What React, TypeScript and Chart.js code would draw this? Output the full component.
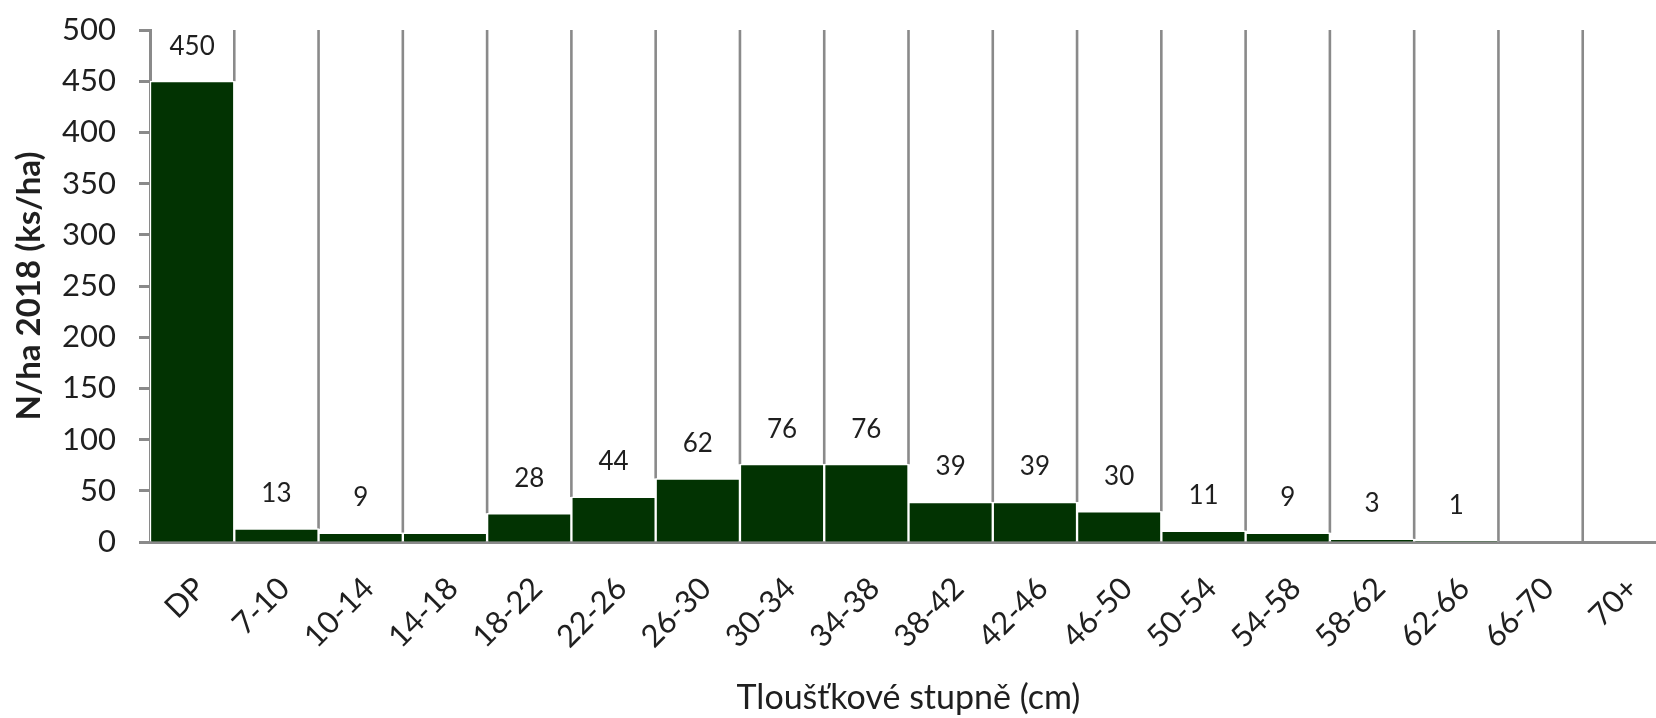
import React, { useEffect, useRef } from "react";
import { Chart, registerables } from "chart.js";

Chart.register(...registerables);

const categories = [
  "DP", "7-10", "10-14", "14-18", "18-22", "22-26", "26-30", "30-34", "34-38",
  "38-42", "42-46", "46-50", "50-54", "54-58", "58-62", "62-66", "66-70", "70+",
];
const values = [450, 13, 9, 9, 28, 44, 62, 76, 76, 39, 39, 30, 11, 9, 3, 1, 0, 0];
const unlabeledCategories = ["14-18"];
const yMin = 0;
const yMax = 500;
const yStep = 50;
const xTitle = "Tloušťkové stupně (cm)";
const yTitle = "N/ha 2018 (ks/ha)";

const BAR = "#023302";
const AXIS = "#8a8a8a";
const TEXT = "#1f1f1f";
const FONT = "Lato, 'Open Sans', sans-serif";

const dropLines = {
  id: "dropLines",
  beforeDatasetsDraw(chart: any) {
    const { ctx, scales } = chart;
    const x = scales.x;
    const y = scales.y;
    const data = chart.data.datasets[0].data as number[];
    ctx.save();
    ctx.strokeStyle = AXIS;
    ctx.lineWidth = 2.6;
    for (let i = 1; i < data.length; i++) {
      const xp = (x.getPixelForValue(i - 1) + x.getPixelForValue(i)) / 2;
      const top = y.getPixelForValue(yMax);
      const bottom = y.getPixelForValue(Math.max(data[i - 1], data[i]));
      ctx.beginPath();
      ctx.moveTo(xp, top);
      ctx.lineTo(xp, bottom);
      ctx.stroke();
    }
    ctx.restore();
  },
};

const valueLabels = {
  id: "valueLabels",
  afterDatasetsDraw(chart: any) {
    const { ctx, scales } = chart;
    const x = scales.x;
    const y = scales.y;
    const data = chart.data.datasets[0].data as number[];
    const labels = chart.data.labels as string[];
    ctx.save();
    ctx.fillStyle = TEXT;
    ctx.font = `26px ${FONT}`;
    ctx.textAlign = "center";
    ctx.textBaseline = "middle";
    data.forEach((v, i) => {
      if (!v || unlabeledCategories.includes(labels[i])) return;
      ctx.fillText(String(v), x.getPixelForValue(i), y.getPixelForValue(v) - 35);
    });
    ctx.restore();
  },
};

export default function App() {
  const ref = useRef<HTMLCanvasElement | null>(null);

  useEffect(() => {
    if (!ref.current) return;
    const chart = new Chart(ref.current, {
      type: "bar",
      data: {
        labels: categories,
        datasets: [
          {
            data: values,
            backgroundColor: BAR,
            borderColor: "#ffffff",
            borderWidth: 1.5,
            barPercentage: 1,
            categoryPercentage: 1,
          },
        ],
      },
      options: {
        animation: false,
        responsive: false,
        layout: { padding: { top: 30, left: 0, right: 13, bottom: 0 } },
        plugins: {
          legend: { display: false },
          tooltip: { enabled: false },
          title: { display: false },
        },
        scales: {
          x: {
            offset: true,
            grid: { display: false, drawTicks: false },
            border: { display: true, color: AXIS, width: 3 },
            ticks: {
              autoSkip: false,
              maxRotation: 45,
              minRotation: 45,
              padding: 28,
              labelOffset: 8,
              color: TEXT,
              font: { family: FONT, size: 31 },
            },
            title: {
              display: true,
              text: xTitle,
              color: TEXT,
              font: { family: FONT, size: 34 },
              padding: { top: 0, bottom: 0 },
            },
            afterFit: (s: any) => {
              s.height = 176;
              s.paddingLeft = 0;
              s.paddingRight = 0;
            },
          },
          y: {
            min: yMin,
            max: yMax,
            ticks: {
              stepSize: yStep,
              padding: 23,
              color: TEXT,
              font: { family: FONT, size: 31 },
            },
            grid: {
              drawOnChartArea: false,
              drawTicks: true,
              tickLength: 11,
              tickColor: AXIS,
              tickWidth: 3,
            },
            border: { display: true, color: AXIS, width: 3 },
            title: {
              display: true,
              text: yTitle,
              color: TEXT,
              font: { family: FONT, size: 33, weight: "bold" },
              padding: { top: 10, bottom: 0 },
            },
            afterFit: (s: any) => {
              s.width = 150;
              s.paddingTop = 0;
              s.paddingBottom = 0;
            },
          },
        },
      },
      plugins: [dropLines, valueLabels],
    });
    return () => chart.destroy();
  }, []);

  return (
    <div
      style={{
        position: "absolute",
        left: 0,
        top: 0,
        width: 1656,
        height: 718,
        overflow: "hidden",
        background: "#ffffff",
      }}
    >
      <canvas ref={ref} width={1680} height={718} style={{ width: 1680, height: 718, display: "block" }} />
    </div>
  );
}
